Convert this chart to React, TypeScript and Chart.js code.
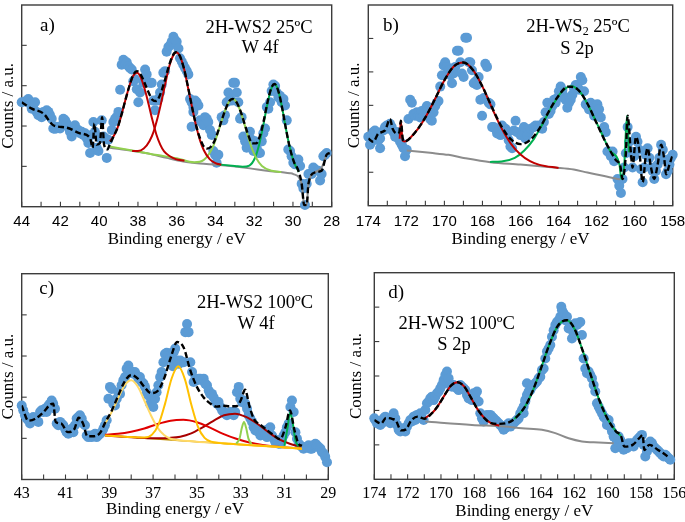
import React, { useEffect, useRef } from 'react';
import { Chart, registerables } from 'chart.js';
Chart.register(...registerables);

type P = [number, number][];

// ---------------- Panel a : 2H-WS2 25ºC, W 4f ----------------
const pointsA: P = [[44.00,2.59],[43.83,2.61],[43.66,2.67],[43.57,2.55],[43.48,2.43],[43.40,2.44],[43.31,2.59],[43.23,2.35],[43.14,2.27],[43.05,2.31],[42.97,2.22],[42.88,2.35],[42.80,2.27],[42.71,2.39],[42.62,2.35],[42.54,2.27],[42.45,2.18],[42.37,1.94],[42.28,1.93],[42.19,1.98],[42.02,1.94],[41.94,2.01],[41.85,2.18],[41.76,2.14],[41.68,2.06],[41.59,1.98],[41.51,1.86],[41.42,1.74],[41.33,1.90],[41.25,2.02],[41.16,1.90],[41.08,1.90],[40.99,1.82],[40.90,1.86],[40.82,1.78],[40.73,1.82],[40.65,1.70],[40.56,1.58],[40.47,1.33],[40.39,1.78],[40.30,2.10],[40.22,1.86],[40.13,1.46],[40.04,1.38],[39.96,1.70],[39.87,2.14],[39.78,1.74],[39.70,1.70],[39.61,1.21],[39.53,1.66],[39.35,1.90],[39.27,2.10],[39.18,2.18],[39.10,2.22],[39.01,2.35],[38.92,2.90],[38.84,3.52],[38.75,3.64],[38.67,3.56],[38.58,3.58],[38.49,3.48],[38.41,3.44],[38.32,3.40],[38.24,3.11],[38.15,3.16],[38.06,2.91],[37.98,2.59],[37.89,2.83],[37.72,3.07],[37.63,3.40],[37.55,3.28],[37.38,3.07],[37.29,3.07],[37.20,2.63],[37.12,2.39],[37.03,2.63],[36.95,2.67],[36.86,2.83],[36.77,3.03],[36.69,3.32],[36.60,3.36],[36.52,3.84],[36.43,3.96],[36.34,4.00],[36.26,4.09],[36.17,4.21],[36.09,4.13],[36.00,4.09],[35.91,3.92],[35.83,3.68],[35.74,3.60],[35.66,3.52],[35.57,3.44],[35.48,3.36],[35.40,3.28],[35.31,2.67],[35.23,2.59],[35.14,2.47],[35.05,2.63],[34.97,2.59],[34.88,2.51],[35.23,1.98],[35.14,2.35],[34.80,2.14],[34.71,2.10],[34.62,2.02],[34.54,2.22],[34.45,2.18],[34.37,2.10],[34.28,1.90],[34.19,1.78],[34.11,1.38],[34.02,1.29],[33.94,1.09],[33.85,1.29],[33.68,2.22],[33.59,2.14],[33.51,2.27],[33.42,2.59],[33.33,2.83],[33.25,2.67],[33.16,2.63],[33.08,3.07],[32.99,3.07],[32.90,2.83],[32.82,2.59],[32.73,2.18],[32.65,2.22],[32.56,1.74],[32.47,1.62],[32.39,1.46],[32.30,1.70],[32.22,1.86],[32.13,1.66],[32.04,1.38],[31.96,1.62],[31.87,1.46],[31.78,1.33],[31.70,1.33],[31.61,1.62],[31.53,1.82],[31.44,1.94],[31.35,2.47],[31.27,2.43],[31.18,2.59],[31.10,2.87],[31.01,3.03],[30.92,2.99],[30.84,2.83],[30.75,2.71],[30.67,2.75],[30.58,2.59],[30.49,2.67],[30.41,2.51],[30.32,2.14],[30.24,1.42],[30.15,1.38],[30.07,1.25],[29.98,1.09],[29.89,1.05],[29.81,1.13],[29.72,1.17],[29.63,1.01],[29.55,0.57],[29.46,0.45],[29.38,0.04],[29.29,0.57],[29.20,0.81],[29.12,0.81],[29.03,0.81],[28.95,0.97],[28.86,0.93],[28.69,0.89],[28.60,0.65],[28.52,0.81],[28.43,1.25],[28.34,1.29],[28.26,1.33]];
const envelopeA: P = [[44.00,2.59],[43.48,2.43],[42.88,2.31],[42.37,2.02],[41.68,1.96],[40.99,1.82],[40.47,1.70],[40.34,1.46],[40.25,2.06],[40.13,1.54],[39.96,1.58],[39.85,2.22],[39.75,1.54],[39.58,1.42],[39.45,1.55],[39.25,1.75],[39.05,1.96],[38.85,2.28],[38.65,2.64],[38.45,2.98],[38.25,3.26],[38.05,3.36],[37.85,3.27],[37.65,3.06],[37.45,2.83],[37.25,2.65],[37.05,2.62],[36.85,2.78],[36.65,3.07],[36.45,3.41],[36.25,3.70],[36.05,3.83],[35.85,3.75],[35.65,3.47],[35.45,3.05],[35.25,2.57],[35.05,2.12],[34.85,1.77],[34.65,1.53],[34.45,1.44],[34.25,1.48],[34.05,1.63],[33.85,1.89],[33.65,2.18],[33.45,2.45],[33.25,2.64],[33.10,2.67],[32.90,2.58],[32.70,2.36],[32.50,2.06],[32.30,1.77],[32.10,1.57],[31.90,1.57],[31.70,1.76],[31.50,2.15],[31.30,2.62],[31.10,2.96],[30.95,3.04],[30.75,2.86],[30.55,2.43],[30.35,1.90],[30.15,1.44],[29.95,1.11],[29.75,0.93],[29.55,0.57],[29.42,0.04],[29.29,0.04],[29.20,0.57],[28.86,0.85],[28.52,0.89],[28.26,1.29],[28.09,1.33]];
const red1A: P = [[39.45,1.62],[39.25,1.75],[39.05,1.96],[38.85,2.28],[38.65,2.64],[38.45,2.98],[38.25,3.24],[38.05,3.32],[37.85,3.20],[37.65,2.91],[37.45,2.54],[37.25,2.14],[37.05,1.79],[36.85,1.54],[36.65,1.37],[36.35,1.25],[36.05,1.18],[35.60,1.14]];
const red2A: P = [[38.3,1.38],[38.0,1.38],[37.7,1.44],[37.4,1.63],[37.2,1.85],[37.0,2.18],[36.8,2.58],[36.6,3.02],[36.4,3.45],[36.2,3.73],[36.0,3.82],[35.8,3.69],[35.6,3.38],[35.4,2.91],[35.2,2.45],[35.0,2.01],[34.8,1.65],[34.6,1.40],[34.3,1.18],[34.0,1.08],[33.7,1.04]];
const limeA: P = [[39.45,1.49],[38.0,1.37],[37.0,1.28],[36.0,1.20],[35.1,1.10],[34.6,1.16],[34.3,1.33],[34.1,1.52],[33.9,1.79],[33.7,2.10],[33.5,2.39],[33.3,2.60],[33.1,2.67],[32.9,2.58],[32.7,2.35],[32.5,2.04],[32.3,1.71],[32.1,1.42],[31.9,1.21],[31.6,1.01],[31.1,0.89],[30.6,0.86]];
const greenA: P = [[33.9,1.05],[33.0,1.01],[32.6,0.99],[32.25,1.02],[31.95,1.22],[31.75,1.53],[31.55,1.97],[31.35,2.47],[31.15,2.88],[30.95,3.04],[30.75,2.86],[30.55,2.43],[30.35,1.90],[30.15,1.44],[29.95,1.11],[29.70,0.86]];
const backgroundA: P = [[39.45,1.46],[38.24,1.38],[37.38,1.31],[36.52,1.21],[35.66,1.12],[34.80,1.07],[33.94,1.04],[33.08,1.00],[32.22,0.95],[31.35,0.89],[30.15,0.83],[29.98,0.81],[29.55,0.57],[29.42,0.04],[29.29,0.04],[29.20,0.57],[28.86,0.85],[28.52,0.97],[28.26,1.29]];

// ---------------- Panel b : 2H-WS2 25ºC, S 2p ----------------
const pointsB: P = [[174.00,2.06],[173.91,1.82],[173.82,1.91],[173.74,2.20],[173.65,2.25],[173.56,2.11],[173.47,1.96],[173.38,1.72],[173.38,2.01],[173.21,2.25],[173.12,2.35],[173.03,2.40],[172.95,2.30],[172.86,2.45],[172.77,2.35],[172.68,2.20],[172.59,2.06],[172.51,2.20],[172.42,2.01],[172.33,1.91],[172.24,1.82],[172.15,1.72],[172.07,1.48],[171.98,1.67],[171.89,2.59],[171.80,3.17],[171.71,3.08],[171.63,2.74],[171.54,2.69],[171.45,2.79],[171.36,2.69],[171.27,2.64],[171.19,2.83],[171.10,2.69],[171.01,2.88],[170.92,2.98],[170.84,2.74],[170.75,2.59],[170.66,2.54],[170.57,2.79],[170.48,2.98],[170.40,3.08],[170.31,3.13],[170.22,3.56],[170.13,3.90],[170.04,4.19],[169.96,4.29],[169.87,4.15],[169.78,4.05],[169.69,3.90],[169.60,3.66],[169.52,3.95],[169.43,4.15],[169.34,4.63],[169.25,4.63],[169.16,4.29],[169.08,3.95],[168.99,3.85],[168.90,5.02],[168.81,5.02],[168.72,4.29],[168.64,4.29],[168.55,4.05],[168.46,3.66],[168.37,3.71],[168.29,3.61],[168.20,3.85],[168.11,3.17],[168.02,2.69],[167.93,3.22],[167.85,4.24],[167.76,4.15],[167.67,3.08],[167.58,3.03],[167.49,2.35],[167.41,2.35],[167.32,2.30],[167.23,2.16],[167.14,2.25],[167.05,2.11],[166.97,2.40],[166.88,2.16],[166.79,2.30],[166.70,2.16],[166.62,1.96],[166.53,1.77],[166.44,1.72],[166.35,2.25],[166.26,2.54],[166.18,2.20],[166.00,2.11],[165.91,2.11],[165.82,2.35],[165.74,2.01],[165.65,2.11],[165.56,2.20],[165.47,2.30],[165.30,2.35],[165.21,2.40],[165.03,2.40],[164.95,2.35],[164.86,2.30],[164.77,2.50],[164.68,2.79],[164.59,3.08],[164.51,2.74],[164.42,2.83],[164.33,2.98],[164.24,3.17],[164.15,3.08],[164.07,3.22],[163.98,3.42],[163.89,3.56],[163.80,3.46],[163.71,3.27],[163.63,3.17],[163.54,2.93],[163.45,3.08],[163.36,3.17],[163.27,3.32],[163.19,3.51],[163.10,3.61],[163.01,3.61],[162.92,3.47],[162.83,3.85],[162.75,3.75],[162.66,3.42],[162.57,3.03],[162.48,2.98],[162.40,2.88],[162.31,3.08],[162.22,2.83],[162.13,2.69],[162.04,2.98],[161.96,3.03],[161.87,2.88],[161.78,2.64],[161.60,2.35],[161.52,2.20],[161.43,1.62],[161.34,1.62],[161.25,1.48],[161.16,1.62],[161.08,1.33],[160.90,0.80],[160.81,0.60],[160.72,0.38],[160.64,0.80],[160.55,1.14],[160.46,1.57],[160.37,2.35],[160.29,1.91],[160.20,1.62],[160.11,1.14],[160.02,1.48],[159.93,2.06],[159.85,1.91],[159.76,1.67],[159.67,1.09],[159.58,0.70],[159.49,1.14],[159.41,1.52],[159.32,1.72],[159.23,1.43],[159.14,1.14],[159.05,1.04],[158.97,0.80],[158.88,1.04],[158.79,1.23],[158.70,1.43],[158.61,1.82],[158.52,1.67],[158.44,1.38],[158.35,0.94],[158.26,1.04],[158.17,1.23],[158.09,1.43],[158.00,1.52]];
const envelopeB: P = [[174.0,2.01],[173.74,1.91],[173.47,2.16],[173.12,2.25],[172.86,2.59],[172.72,2.30],[172.51,2.16],[172.37,2.20],[172.29,2.54],[172.19,2.01],[172.1,1.92],[171.5,2.22],[171.0,2.64],[170.5,3.18],[170.0,3.75],[169.5,4.17],[169.0,4.28],[168.5,4.06],[168.0,3.56],[167.5,2.94],[167.0,2.37],[166.5,1.98],[166.0,1.84],[165.5,1.96],[165.0,2.31],[164.5,2.83],[164.0,3.29],[163.5,3.56],[163.0,3.48],[162.5,3.07],[162.0,2.47],[161.5,1.87],[161.0,1.37],[160.75,1.18],[160.64,0.80],[160.46,1.57],[160.37,2.69],[160.2,1.60],[160.11,1.14],[159.93,2.06],[159.76,1.67],[159.58,0.70],[159.41,1.52],[159.32,1.72],[159.14,1.14],[158.97,0.80],[158.79,1.23],[158.61,1.82],[158.44,1.38],[158.35,0.94],[158.17,1.23],[158.0,1.52]];
const redB: P = [[172.35,2.00],[172.29,2.54],[172.2,1.95],[172.1,1.92],[171.5,2.22],[171.0,2.64],[170.5,3.18],[170.0,3.75],[169.5,4.17],[169.0,4.28],[168.5,4.06],[168.0,3.56],[167.5,2.92],[167.0,2.32],[166.5,1.85],[166.0,1.53],[165.5,1.33],[165.0,1.22],[164.0,1.13]];
const greenB: P = [[167.6,1.31],[167.0,1.32],[166.3,1.43],[165.8,1.65],[165.3,1.99],[164.8,2.49],[164.3,3.01],[163.8,3.43],[163.3,3.57],[162.8,3.35],[162.3,2.84],[161.8,2.24],[161.3,1.65],[160.8,1.23],[160.7,0.80],[160.55,1.20],[160.4,2.69],[160.3,1.60]];
const backgroundB: P = [[171.98,1.65],[170.75,1.58],[169.78,1.52],[168.9,1.42],[167.58,1.30],[166.0,1.23],[164.24,1.14],[163.2,1.08],[162.48,0.99],[161.6,0.89],[160.9,0.80],[160.75,0.79]];

// ---------------- Panel c : 2H-WS2 100ºC, W 4f ----------------
const pointsC: P = [[43.00,1.80],[42.93,1.68],[42.85,1.56],[42.77,1.48],[42.70,1.44],[42.62,1.36],[42.54,1.48],[42.47,1.52],[42.39,1.48],[42.32,1.44],[42.24,1.40],[42.16,1.64],[42.09,1.68],[42.01,1.64],[41.94,1.72],[41.86,1.64],[41.78,1.80],[41.71,1.84],[41.63,1.92],[41.56,1.84],[41.48,1.72],[41.40,1.36],[41.33,1.32],[41.25,1.40],[41.18,1.36],[41.10,1.32],[41.02,1.23],[40.95,1.15],[40.87,1.11],[40.79,1.15],[40.72,1.23],[40.64,1.15],[40.57,1.32],[40.49,1.48],[40.41,1.52],[40.34,1.56],[40.26,1.48],[40.19,1.36],[40.11,1.32],[40.03,1.07],[39.96,1.03],[39.88,1.07],[39.81,1.03],[39.73,1.07],[39.65,1.11],[39.58,1.03],[39.50,1.07],[39.42,1.11],[39.35,1.15],[39.27,1.23],[39.20,1.32],[39.12,1.44],[39.04,1.96],[38.97,2.25],[38.89,2.20],[38.82,1.84],[38.74,1.80],[38.66,1.96],[38.59,2.12],[38.51,2.08],[38.44,2.29],[38.36,2.41],[38.28,2.49],[38.21,2.69],[38.13,2.77],[38.05,2.65],[37.98,2.61],[37.90,2.57],[37.83,2.61],[37.75,2.53],[37.67,2.45],[37.60,2.49],[37.52,2.37],[37.44,2.33],[37.37,2.25],[37.29,2.12],[37.22,2.04],[37.14,1.84],[37.06,1.80],[36.99,1.76],[36.91,1.96],[36.84,2.12],[36.76,2.29],[36.68,2.49],[36.61,2.61],[36.53,2.85],[36.46,3.05],[36.38,3.08],[36.30,3.01],[36.23,2.93],[36.15,3.08],[36.10,2.75],[36.06,3.09],[35.99,3.18],[35.91,2.89],[35.83,2.81],[35.76,2.89],[35.68,2.85],[35.60,2.85],[35.53,3.58],[35.45,3.78],[35.38,3.58],[35.30,2.85],[35.22,2.61],[35.15,2.37],[35.07,2.45],[34.99,2.41],[34.92,2.45],[34.84,2.45],[34.77,2.41],[34.69,2.45],[34.62,2.33],[34.54,2.29],[34.46,2.16],[34.39,2.08],[34.31,2.08],[34.24,2.00],[34.16,1.92],[34.08,1.84],[34.01,1.88],[33.93,1.76],[33.85,1.68],[33.78,1.64],[33.70,1.60],[33.63,1.56],[33.55,1.60],[33.47,1.64],[33.40,1.64],[33.32,1.56],[33.25,1.64],[33.17,2.12],[33.09,2.25],[33.02,1.96],[32.94,1.88],[32.87,1.92],[32.79,1.84],[32.71,1.72],[32.64,1.56],[32.56,1.48],[32.48,1.40],[32.41,1.27],[32.33,1.19],[32.26,1.23],[32.18,1.15],[32.10,1.07],[32.03,1.11],[31.95,1.19],[31.88,1.07],[31.80,1.03],[31.72,1.23],[31.65,1.27],[31.57,1.07],[31.49,0.99],[31.42,0.91],[31.34,0.95],[31.27,0.87],[31.19,0.87],[31.11,0.99],[31.04,1.07],[30.96,1.15],[30.89,1.27],[30.81,1.36],[30.73,1.76],[30.66,1.92],[30.58,1.64],[30.50,1.15],[30.43,0.99],[30.35,0.87],[30.28,0.83],[30.20,0.79],[30.13,0.75],[30.05,0.79],[29.97,0.79],[29.90,0.83],[29.82,0.75],[29.75,0.75],[29.67,0.83],[29.59,0.87],[29.52,0.83],[29.44,0.79],[29.36,0.75],[29.29,0.67],[29.21,0.63],[29.14,0.55],[29.06,0.42]];
const envelopeC: P = [[43.0,1.80],[42.7,1.43],[42.4,1.47],[42.0,1.64],[41.7,1.82],[41.56,1.84],[41.45,1.40],[41.2,1.36],[40.9,1.15],[40.6,1.22],[40.4,1.50],[40.2,1.36],[40.0,1.05],[39.7,1.05],[39.4,1.15],[39.2,1.37],[38.9,1.66],[38.6,2.03],[38.3,2.38],[38.0,2.54],[37.7,2.45],[37.4,2.25],[37.1,2.10],[36.8,2.15],[36.5,2.45],[36.2,2.95],[35.9,3.34],[35.6,3.20],[35.3,2.65],[35.0,2.25],[34.7,2.00],[34.4,1.85],[34.1,1.77],[33.8,1.79],[33.5,1.78],[33.2,1.78],[33.0,1.92],[32.8,2.18],[32.6,1.78],[32.4,1.47],[32.1,1.33],[31.8,1.20],[31.5,1.08],[31.2,0.98],[30.95,1.28],[30.75,1.68],[30.55,1.21],[30.35,0.86],[30.2,0.82]];
const yellow1C: P = [[39.2,1.35],[38.9,1.63],[38.6,1.97],[38.3,2.29],[38.0,2.41],[37.7,2.26],[37.4,1.92],[37.1,1.56],[36.8,1.26],[36.5,1.08],[36.2,0.99],[35.9,0.96],[35.0,0.92],[34.0,0.89],[33.0,0.85],[32.0,0.82],[31.0,0.78],[30.2,0.75]];
const yellow2C: P = [[39.2,1.07],[38.0,1.03],[37.4,1.02],[37.05,1.09],[36.75,1.34],[36.45,1.85],[36.15,2.46],[35.85,2.75],[35.55,2.44],[35.25,1.81],[34.95,1.28],[34.65,1.01],[34.35,0.92],[33.5,0.87],[32.5,0.83],[31.5,0.80],[30.2,0.75]];
const red1C: P = [[39.2,1.09],[38.6,1.11],[38.0,1.16],[37.4,1.24],[36.8,1.35],[36.2,1.43],[35.62,1.45],[35.0,1.39],[34.4,1.26],[33.8,1.11],[33.2,0.99],[32.6,0.90],[32.0,0.84],[31.2,0.79],[30.2,0.75]];
const red2C: P = [[39.2,1.07],[37.8,1.02],[37.26,1.00],[36.76,1.00],[36.26,1.01],[35.76,1.04],[35.26,1.12],[34.76,1.26],[34.26,1.42],[33.76,1.56],[33.26,1.60],[32.76,1.52],[32.26,1.36],[31.76,1.16],[31.26,0.98],[30.76,0.87],[30.26,0.80]];
const limeC: P = [[33.2,0.87],[33.05,1.00],[32.95,1.25],[32.85,1.40],[32.75,1.25],[32.65,1.00],[32.5,0.86]];
const greenC: P = [[31.0,0.82],[30.85,1.30],[30.75,1.62],[30.65,1.45],[30.5,0.95],[30.35,0.80]];
const backgroundC: P = [[39.2,1.07],[37.0,0.99],[35.0,0.92],[33.0,0.85],[31.0,0.78],[30.2,0.75]];

// ---------------- Panel d : 2H-WS2 100ºC, S 2p ----------------
const pointsD: P = [[174.0,1.77],[173.94,1.72],[173.84,1.63],[173.74,1.68],[173.64,1.58],[173.54,1.63],[173.44,1.77],[173.34,1.82],[173.24,1.72],[173.14,1.68],[173.04,1.63],[172.94,1.72],[172.84,1.92],[172.74,1.77],[172.64,1.58],[172.54,1.44],[172.44,1.39],[172.34,1.48],[172.24,1.44],[172.14,1.39],[172.04,1.53],[171.94,1.63],[171.84,1.72],[171.74,1.68],[171.64,1.82],[171.54,1.72],[171.44,1.87],[171.34,1.82],[171.24,1.92],[171.14,1.77],[171.04,1.72],[170.94,2.01],[170.84,2.21],[170.74,2.26],[170.64,2.35],[170.54,2.40],[170.44,2.30],[170.34,2.40],[170.24,2.50],[170.14,2.55],[170.04,2.64],[169.94,2.74],[169.84,2.88],[169.74,3.03],[169.64,3.13],[169.54,2.93],[169.44,2.74],[169.34,2.69],[169.24,2.74],[169.14,2.69],[169.04,2.64],[168.94,2.59],[168.84,2.74],[168.74,2.69],[168.64,2.64],[168.54,2.59],[168.44,2.45],[168.34,2.35],[168.24,2.40],[168.14,2.30],[168.04,2.50],[167.94,2.45],[167.84,2.55],[167.74,2.26],[167.64,1.92],[167.54,1.77],[167.44,1.68],[167.34,1.82],[167.24,1.87],[167.14,1.82],[167.04,1.87],[166.94,1.82],[166.84,1.77],[166.74,1.72],[166.64,1.68],[166.54,1.63],[166.44,1.58],[166.34,1.53],[166.24,1.44],[166.14,1.48],[166.04,1.58],[165.94,1.63],[165.84,1.53],[165.74,1.58],[165.64,1.63],[165.54,1.68],[165.44,1.72],[165.34,1.77],[165.24,1.92],[165.14,2.01],[165.04,2.11],[164.94,2.30],[164.84,2.79],[165.04,1.92],[164.94,2.26],[164.84,2.45],[164.74,2.55],[164.64,2.59],[164.54,2.69],[164.44,2.74],[164.34,2.79],[164.24,2.84],[164.14,2.93],[164.04,2.98],[163.94,3.17],[163.84,3.22],[163.74,3.51],[163.64,3.71],[163.54,3.80],[163.44,3.90],[163.34,4.14],[163.24,4.33],[163.14,4.48],[163.04,4.57],[162.94,4.62],[162.84,4.72],[162.78,5.01],[162.74,4.91],[162.64,4.82],[162.54,4.62],[162.44,4.72],[162.34,4.38],[162.24,4.48],[162.14,4.09],[162.04,4.24],[161.94,4.53],[161.84,4.48],[161.74,4.53],[161.64,4.57],[161.54,4.19],[161.44,3.51],[161.34,3.22],[161.24,3.08],[161.14,3.13],[161.04,3.03],[160.94,2.93],[160.84,2.74],[160.74,2.55],[160.64,2.21],[160.54,2.11],[160.44,2.01],[160.34,1.92],[160.24,1.82],[160.14,1.77],[160.04,1.58],[159.94,1.72],[159.84,1.53],[159.74,1.39],[159.64,1.24],[159.54,0.90],[159.44,1.10],[159.34,1.24],[159.24,1.14],[159.14,0.95],[159.04,0.86],[158.94,0.95],[158.84,0.90],[158.74,1.05],[158.64,1.00],[158.54,1.05],[158.44,0.95],[158.34,1.05],[158.24,1.14],[158.14,1.19],[158.04,1.24],[157.94,1.29],[157.84,1.00],[157.74,0.66],[157.64,0.81],[157.54,1.00],[157.44,1.10],[157.34,1.05],[157.24,0.95],[157.14,0.90],[157.04,0.86],[156.94,0.81],[156.84,0.76],[156.74,0.71],[156.64,0.66],[156.54,0.71],[156.44,0.66],[156.34,0.61],[156.24,0.57]];
const envelopeD: P = [[174.0,1.72],[173.6,1.62],[173.3,1.78],[172.9,1.75],[172.7,1.70],[172.4,1.42],[172.1,1.45],[171.8,1.70],[171.4,1.82],[171.0,1.76],[170.5,1.94],[170.2,2.12],[169.8,2.43],[169.4,2.72],[169.0,2.82],[168.6,2.69],[168.2,2.37],[167.8,2.03],[167.4,1.78],[167.0,1.63],[166.5,1.61],[166.0,1.64],[165.6,1.75],[165.0,2.08],[164.5,2.56],[164.0,3.22],[163.5,3.91],[163.0,4.45],[162.45,4.62],[162.0,4.38],[161.5,3.74],[161.0,3.01],[160.5,2.30],[160.0,1.75],[159.5,1.39],[159.2,1.26],[159.0,0.95],[158.5,1.00],[158.0,1.25],[157.9,1.29],[157.8,0.85],[157.5,1.00],[157.0,0.86],[156.5,0.70],[156.3,0.60]];
const redD: P = [[171.0,1.76],[170.5,1.94],[170.2,2.12],[169.8,2.43],[169.4,2.72],[169.0,2.82],[168.6,2.69],[168.2,2.37],[167.8,2.03],[167.4,1.78],[167.0,1.63],[166.5,1.56]];
const greenD: P = [[165.6,1.75],[165.0,2.08],[164.5,2.56],[164.0,3.22],[163.5,3.91],[163.0,4.45],[162.45,4.62],[162.0,4.38],[161.5,3.74],[161.0,3.01],[160.5,2.30],[160.0,1.75],[159.5,1.39],[159.2,1.26]];
const backgroundD: P = [[170.94,1.68],[168.14,1.58],[166.14,1.53],[165.14,1.48],[163.94,1.44],[163.14,1.34],[162.34,1.19],[161.54,1.10],[160.54,1.07],[159.64,1.05]];

// ---------------- Text ----------------
const xTitle = 'Binding energy / eV';
const yTitle = 'Counts / a.u.';

const SERIF = '"Liberation Serif", "Times New Roman", serif';
const SANS = '"Liberation Sans", Arial, sans-serif';
const BLUE = '#5B9BD5';
const RED = '#C00000';
const LIME = '#92D050';
const GREEN = '#00B050';
const GRAY = '#8C8C8C';

interface LineSpec { data: P; color: string; width?: number; dash?: number[] }
interface PanelSpec {
  box: { left: number; top: number; width: number; height: number };
  padTop: number; padRight: number;
  yWidth: number; xHeight: number;
  xMin: number; xMax: number; yMax: number;
  odd: boolean;
  tickFamily: string; tickSize: number; tickPad: number;
  xTitlePad: number; yTitlePad: number;
  points: P;
  lines: LineSpec[];
}

const env = (data: P): LineSpec => ({ data, color: '#000', width: 2.4, dash: [6, 3] });

const PANELS: PanelSpec[] = [
  {
    box: { left: 0, top: 0, width: 342, height: 262 }, padTop: 0.7, padRight: 10.3,
    yWidth: 21.7, xHeight: 55.3, xMin: 28, xMax: 44, yMax: 5, odd: false,
    tickFamily: SANS, tickSize: 15, tickPad: 7.5, xTitlePad: 13.5, yTitlePad: 0,
    points: pointsA,
    lines: [env(envelopeA), { data: red1A, color: RED }, { data: red2A, color: RED }, { data: limeA, color: LIME }, { data: greenA, color: GREEN }, { data: backgroundA, color: GRAY }],
  },
  {
    box: { left: 342, top: 0, width: 343, height: 262 }, padTop: 0.5, padRight: 12.3,
    yWidth: 26.3, xHeight: 56.3, xMin: 158, xMax: 174, yMax: 6, odd: false,
    tickFamily: SANS, tickSize: 15, tickPad: 8.5, xTitlePad: 13.5, yTitlePad: 4,
    points: pointsB,
    lines: [env(envelopeB), { data: redB, color: RED }, { data: greenB, color: GREEN }, { data: backgroundB, color: GRAY }],
  },
  {
    box: { left: 0, top: 262, width: 342, height: 260 }, padTop: 11.7, padRight: 13.7,
    yWidth: 21.7, xHeight: 42.5, xMin: 29, xMax: 43, yMax: 5, odd: true,
    tickFamily: SERIF, tickSize: 16, tickPad: 5.8, xTitlePad: 3.5, yTitlePad: 0,
    points: pointsC,
    lines: [env(envelopeC), { data: limeC, color: LIME }, { data: greenC, color: GREEN }, { data: yellow2C, color: '#FFC000' }, { data: yellow1C, color: '#FFD966' }, { data: red1C, color: '#E00000' }, { data: red2C, color: '#A80000' }, { data: backgroundC, color: '#BF8F00', width: 1.5 }],
  },
  {
    box: { left: 342, top: 262, width: 343, height: 260 }, padTop: 10.7, padRight: 10.7,
    yWidth: 32.3, xHeight: 42.7, xMin: 156, xMax: 174, yMax: 6, odd: false,
    tickFamily: SERIF, tickSize: 16, tickPad: 6, xTitlePad: 1.8, yTitlePad: 6.2,
    points: pointsD,
    lines: [env(envelopeD), { data: redD, color: RED }, { data: greenD, color: GREEN }, { data: backgroundD, color: GRAY }],
  },
];

const LABELS: { x: number; y: number; size: number; left?: boolean; content: React.ReactNode }[] = [
  { x: 40, y: 24, size: 19, left: true, content: 'a)' },
  { x: 259, y: 27, size: 18.5, content: '2H-WS2 25ºC' },
  { x: 260, y: 47, size: 18.5, content: 'W 4f' },
  { x: 383, y: 24, size: 19, left: true, content: 'b)' },
  { x: 578, y: 25.5, size: 18.5, content: <>2H-WS<sub style={{ fontSize: '0.65em', verticalAlign: '-0.3em', lineHeight: 0 }}>2</sub> 25ºC</> },
  { x: 577, y: 47.5, size: 18.5, content: 'S 2p' },
  { x: 39.3, y: 286.7, size: 19, left: true, content: 'c)' },
  { x: 255, y: 301.7, size: 18.5, content: '2H-WS2 100ºC' },
  { x: 256, y: 322.5, size: 18.5, content: 'W 4f' },
  { x: 388.3, y: 290.7, size: 19, left: true, content: 'd)' },
  { x: 456.7, y: 322.5, size: 18.5, content: '2H-WS2 100ºC' },
  { x: 454, y: 343.5, size: 18.5, content: 'S 2p' },
];

const framePlugin = {
  id: 'xpsFrame',
  beforeDatasetsDraw(chart: any) {
    const { ctx, chartArea: a, scales } = chart;
    ctx.save();
    ctx.strokeStyle = '#3c3c3c';
    ctx.lineWidth = 1.4;
    ctx.strokeRect(a.left, a.top, a.right - a.left, a.bottom - a.top);
    ctx.lineWidth = 1.1;
    const xs = scales.x;
    xs.ticks.forEach((t: any) => {
      const px = xs.getPixelForValue(t.value);
      ctx.beginPath();
      ctx.moveTo(px, a.bottom);
      ctx.lineTo(px, a.bottom - 5);
      ctx.stroke();
    });
    const ys = scales.y;
    ys.ticks.forEach((t: any) => {
      if (t.value <= ys.min || t.value >= ys.max) return;
      const py = ys.getPixelForValue(t.value);
      ctx.beginPath();
      ctx.moveTo(a.left, py);
      ctx.lineTo(a.left + 5, py);
      ctx.stroke();
    });
    ctx.restore();
  },
};

const toXY = (d: P) => d.map(([x, y]) => ({ x, y }));

function Panel({ spec }: { spec: PanelSpec }) {
  const ref = useRef<HTMLCanvasElement>(null);
  useEffect(() => {
    if (!ref.current) return;
    const datasets: any[] = spec.lines.map((l, i) => ({
      type: 'line',
      data: toXY(l.data),
      borderColor: l.color,
      borderWidth: l.width ?? 2,
      borderDash: l.dash ?? [],
      pointRadius: 0,
      fill: false,
      cubicInterpolationMode: 'monotone',
      order: i + 1,
    }));
    datasets.push({
      type: 'scatter',
      data: toXY(spec.points),
      backgroundColor: BLUE,
      borderWidth: 0,
      pointRadius: 5,
      clip: false,
      order: 100,
    });
    const chart = new Chart(ref.current, {
      type: 'scatter',
      data: { datasets },
      plugins: [framePlugin],
      options: {
        responsive: false,
        animation: false,
        devicePixelRatio: 1,
        events: [],
        layout: { padding: { left: 0, top: spec.padTop, right: spec.padRight, bottom: 0 } },
        plugins: { legend: { display: false }, tooltip: { enabled: false } },
        scales: {
          x: {
            type: 'linear', min: spec.xMin, max: spec.xMax, reverse: true,
            grid: { display: false, drawTicks: false }, border: { display: false },
            ticks: {
              stepSize: 1, autoSkip: false, maxRotation: 0, padding: spec.tickPad, color: '#000',
              font: { family: spec.tickFamily, size: spec.tickSize, lineHeight: 1 },
              callback: (v: any) => {
                const n = Math.round(Number(v));
                const show = spec.odd ? Math.abs(n % 2) === 1 : n % 2 === 0;
                return show ? String(n) : '';
              },
            },
            title: { display: true, text: xTitle, color: '#000', font: { family: SERIF, size: 17, lineHeight: 1 }, padding: { top: 0, bottom: spec.xTitlePad } },
            afterFit: (s: any) => { s.height = spec.xHeight; s.paddingLeft = 0; s.paddingRight = 0; },
          },
          y: {
            type: 'linear', min: 0, max: spec.yMax,
            grid: { display: false, drawTicks: false }, border: { display: false },
            ticks: { stepSize: 1, display: false },
            title: { display: true, text: yTitle, color: '#000', font: { family: SERIF, size: 17, lineHeight: 1 }, padding: { top: spec.yTitlePad, bottom: 0 } },
            afterFit: (s: any) => { s.width = spec.yWidth; s.paddingTop = 0; s.paddingBottom = 0; },
          },
        },
      } as any,
    });
    return () => chart.destroy();
  }, [spec]);
  const b = spec.box;
  return (
    <canvas
      ref={ref}
      width={b.width}
      height={b.height}
      style={{ position: 'absolute', left: b.left, top: b.top, width: b.width, height: b.height }}
    />
  );
}

export default function App() {
  return (
    <div style={{ position: 'absolute', left: 0, top: 0, width: 685, height: 522, background: '#fff', overflow: 'hidden' }}>
      {PANELS.map((p, i) => <Panel key={i} spec={p} />)}
      {LABELS.map((l, i) => (
        <div
          key={'l' + i}
          style={{
            position: 'absolute', left: l.x, top: l.y,
            transform: l.left ? 'translate(0,-50%)' : 'translate(-50%,-50%)',
            fontFamily: SERIF, fontSize: l.size, lineHeight: 1, whiteSpace: 'nowrap', color: '#000',
          }}
        >
          {l.content}
        </div>
      ))}
    </div>
  );
}
